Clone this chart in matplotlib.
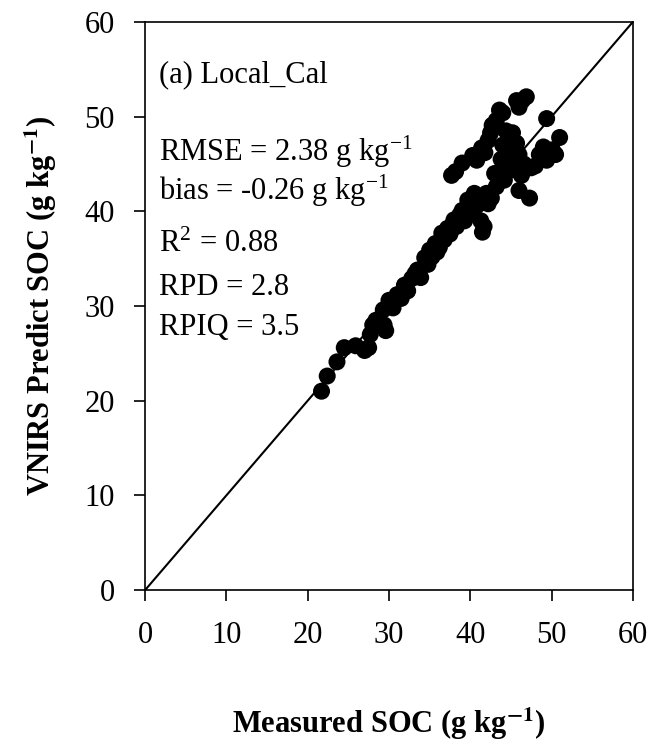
import matplotlib
matplotlib.use("Agg")
import matplotlib.pyplot as plt

plt.rcParams['font.family'] = ['Liberation Serif', 'DejaVu Serif']
plt.rcParams['mathtext.fontset'] = 'stix'

measured = [21.7, 22.4, 23.6, 24.5, 25.9, 27.0, 27.5, 27.7, 28.0, 28.4, 29.4, 29.6, 29.3, 30.0, 30.5,
            31.0, 31.5, 31.9, 32.3, 32.8, 33.2, 33.5, 33.9, 34.4, 34.8, 35.0, 35.3, 35.7, 35.9,
            36.2, 36.5, 36.8, 37.2, 37.5, 37.8, 38.0, 38.3, 38.7, 39.0, 39.3, 39.7, 39.9, 40.2, 40.5,
            40.8, 41.1, 41.5, 41.7, 41.3, 42.0, 42.2, 42.6,
            37.7, 38.2, 39.0, 40.3, 40.8, 41.4, 41.8, 42.2, 42.5, 42.7, 43.2, 43.6, 44.0, 44.4, 46.0, 46.4, 46.9, 45.7,
            43.2, 43.6, 44.2, 44.5, 44.8, 45.2, 45.4, 45.7, 46.0, 46.3, 46.6, 46.0, 45.0, 43.0, 43.8, 44.0,
            47.3, 47.5, 48.0, 48.5,
            49.4, 49.4, 50.1, 51.0, 50.5, 49.0]
predicted = [21.0, 22.6, 24.1, 25.6, 25.8, 25.3, 25.6, 27.0, 28.0, 28.5, 28.0, 27.4, 29.6, 30.6, 29.8,
             31.2, 30.8, 32.2, 31.6, 32.9, 33.4, 33.8, 33.0, 35.1, 34.4, 35.9, 35.2, 36.6, 35.7,
             36.2, 37.7, 37.0, 38.2, 37.6, 38.6, 39.1, 38.4, 39.6, 40.1, 39.0, 41.2, 40.4, 39.8, 41.9,
             40.6, 41.3, 37.8, 38.4, 39.0, 41.9, 40.8, 41.4,
             43.8, 44.2, 45.1, 45.9, 45.4, 46.7, 46.2, 47.5, 48.3, 49.1, 49.6, 50.7, 50.4, 48.5, 51.0, 51.7, 52.1, 51.7,
             42.6, 43.5, 43.3, 44.4, 45.2, 48.3, 44.4, 47.2, 42.2, 43.8, 45.0, 46.0, 46.5, 44.0, 45.5, 47.0,
             41.4, 44.6, 44.8, 46.0,
             49.8, 45.4, 46.5, 47.8, 46.0, 46.8]

ticks = [0, 10, 20, 30, 40, 50, 60]
stats_lines = ["(a) Local_Cal",
               r"RMSE = 2.38 g kg$^{\mathregular{-1}}$",
               r"bias = -0.26 g kg$^{\mathregular{-1}}$",
               r"R$^{\mathregular{2}}$ = 0.88",
               "RPD = 2.8",
               "RPIQ = 3.5"]
stats_y = [54.4, 46.3, 42.2, 36.5, 32.0, 27.7]

fig = plt.figure(figsize=(6.51, 7.49), dpi=100)
ax = fig.add_axes([0.223, 0.2123, 0.749, 0.7583])

ax.plot([0, 60], [0, 60], color='black', lw=1.5, zorder=1)
ax.scatter(measured, predicted, s=150, color='black', edgecolors='none', zorder=2)

ax.set_xlim(0, 60)
ax.set_ylim(0, 60)
ax.set_xticks(ticks)
ax.set_yticks(ticks)
ax.tick_params(direction='out', length=8, width=1.2, labelsize=22, pad=14)
for s in ax.spines.values():
    s.set_linewidth(1.2)

for txt, y in zip(stats_lines, stats_y):
    ax.text(1.7, y, txt, fontsize=22, va='center', ha='left')

ax.set_xlabel(r"Measured SOC (g kg$^{\mathbf{-1}}$)", fontsize=22, fontweight='bold', labelpad=40)
ax.set_ylabel(r"VNIRS Predict SOC (g kg$^{\mathbf{-1}}$)", fontsize=22, fontweight='bold', labelpad=18)

fig.savefig("out.png", dpi=100)
